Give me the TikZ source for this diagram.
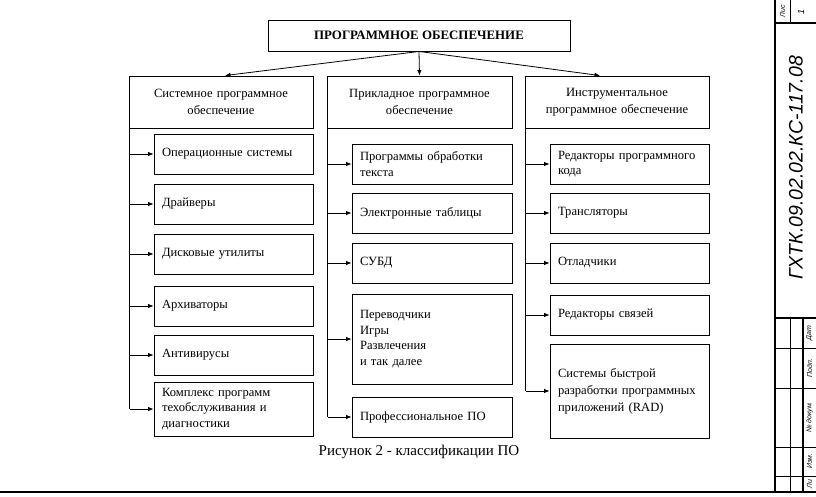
\documentclass[tikz,border=0pt]{standalone}
\usepackage{fontspec}
\setmainfont{Liberation Serif}
\newfontfamily\stampfont{Liberation Sans}
\usetikzlibrary{calc,arrows.meta}
\begin{document}
\begin{tikzpicture}[x=1pt,y=-1pt,
  every node/.style={font=\fontsize{12.6}{15.5}\selectfont},
  box/.style={draw, line width=0.9pt, inner ysep=0pt},
  catbox/.style={box, text width=172pt, inner xsep=6pt, minimum height=52pt, align=center, font=\fontsize{12.6}{16.5}\selectfont},
  child/.style={box, text width=143pt, inner xsep=8pt, align=left},
  arr/.style={-{Latex[length=5.5pt,width=4.5pt]}, line width=0.8pt},
  vline/.style={line width=1.4pt},
  frame/.style={line width=1.6pt},
  stamptxt/.style={rotate=90, inner sep=0pt, font=\stampfont\itshape\fontsize{7}{8}\selectfont}]
\useasboundingbox (0,0) rectangle (816,496);

% top
\node[box, minimum width=302pt, minimum height=31pt, font=\bfseries\fontsize{12.9}{15}\selectfont] (top) at (419,35.5) {ПРОГРАММНОЕ ОБЕСПЕЧЕНИЕ};

% categories
\node[catbox] (sys) at (221,102) {Системное программное\\обеспечение};
\node[catbox, text width=173pt] (app) at (419.5,102) {Прикладное программное\\обеспечение};
\node[catbox] (ins) at (617,102) {Инструментальное\\программное обеспечение};

\draw[arr] (top.south) -- ($(sys.north)+(4,0)$);
\draw[arr] (top.south) -- (app.north);
\draw[arr] (top.south) -- ($(ins.north)+(-17,0)$);

% left column
\node[child, minimum height=40pt] (os)   at (233.5,154) {Операционные системы};
\node[child, minimum height=40pt] (drv)  at (233.5,204) {Драйверы};
\node[child, minimum height=40pt] (disk) at (233.5,254) {Дисковые утилиты};
\node[child, minimum height=40pt] (arch) at (233.5,306) {Архиваторы};
\node[child, minimum height=40pt] (av)   at (233.5,355) {Антивирусы};
\node[child, minimum height=54pt] (komp) at (233.5,409) {Комплекс программ\\техобслуживания и\\диагностики};

% middle column
\node[child, text width=144pt, minimum height=40pt] (txt)  at (432,164) {Программы обработки\\текста};
\node[child, text width=144pt, minimum height=40pt] (tab)  at (432,213) {Электронные таблицы};
\node[child, text width=144pt, minimum height=40pt] (subd) at (432,263) {СУБД};
\node[child, text width=144pt, minimum height=90pt] (misc) at (432,339) {Переводчики\\Игры\\Развлечения\\и так далее};
\node[child, text width=144pt, minimum height=40pt] (prof) at (432,417) {Профессиональное ПО};

% right column
\node[child, minimum height=40pt] (red)   at (629.5,164) {Редакторы программного\\кода};
\node[child, minimum height=40pt] (trans) at (629.5,213) {Трансляторы};
\node[child, minimum height=40pt] (dbg)   at (629.5,263) {Отладчики};
\node[child, minimum height=40pt] (link)  at (629.5,315) {Редакторы связей};
\node[child, minimum height=94pt, font=\fontsize{12.6}{17}\selectfont] (rad) at (629.5,391) {Системы быстрой\\разработки программных\\приложений (RAD)};

% connectors
\coordinate (ls) at ($(sys.west)+(1.2,0)$);
\coordinate (ms) at ($(app.west)+(1.2,0)$);
\coordinate (rs) at ($(ins.west)+(1.2,0)$);
\draw[vline] (ls) -- (ls |- komp.west);
\draw[vline] (ms) -- (ms |- prof.west);
\draw[vline] (rs) -- (rs |- rad.west);
\foreach \n in {os,drv,disk,arch,av,komp} \draw[arr] (ls |- \n.west) -- (\n.west);
\foreach \n in {txt,tab,subd,misc,prof} \draw[arr] (ms |- \n.west) -- (\n.west);
\foreach \n in {red,trans,dbg,link,rad} \draw[arr] (rs |- \n.west) -- (\n.west);

% caption
\node[font=\fontsize{15}{18}\selectfont] (cap) at (419,452) {Рисунок 2 - классификации ПО};

% stamp
\draw[frame] (775,0) -- (775,492);
\draw[frame] (0,492) -- (816,492);
\draw[line width=1.2pt] (775,23) -- (816,23);
\draw[line width=0.7pt] (790,0) -- (790,23);
\draw[line width=1.2pt] (775,318) -- (816,318);
\draw[line width=0.7pt] (790,318) -- (790,492);
\draw[line width=1.2pt] (803,318) -- (803,492);
\foreach \yy in {348,388,447,476} \draw[line width=0.9pt] (775,\yy) -- (816,\yy);
\node[stamptxt] (lis) at (782.5,11.5) {Лис};
\node[stamptxt, font=\stampfont\itshape\fontsize{9}{10}\selectfont] (one) at (801,11.5) {1};
\node[stamptxt] (dat) at (809.5,333) {Дат};
\node[stamptxt] (podp) at (809.5,368) {Подп.};
\node[stamptxt] (ndoc) at (809.5,417.5) {№ докум.};
\node[stamptxt] (izm) at (809.5,461.5) {Изм.};
\node[stamptxt] (li) at (809.5,484) {Ли};
\node[rotate=90, inner sep=0pt, font=\stampfont\itshape\fontsize{19.5}{22}\selectfont] (code) at (796,168) {ГХТК.09.02.02.КС-117.08};
\end{tikzpicture}
\end{document}
